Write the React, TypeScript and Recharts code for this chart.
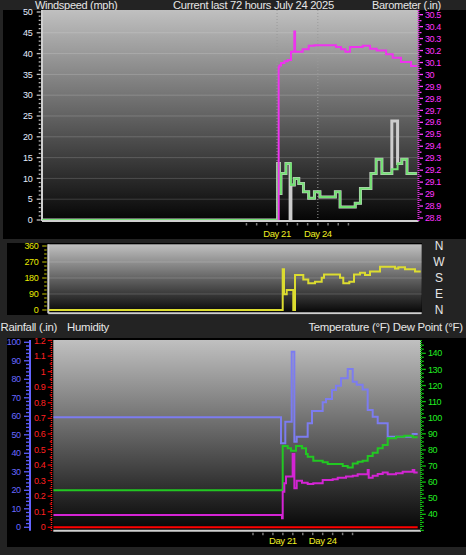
import React from 'react';
import { LineChart, Line, XAxis, YAxis, CartesianGrid, ReferenceLine } from 'recharts';

// ---------- time axis (hours in the 72 h window) ----------
const dayTickHours = [44.95, 52.75];
const dayTickLabels = ['Day 21', 'Day 24'];
const minorTickHours = [39.1, 41.05, 43.0, 46.9, 48.85, 50.8, 54.7, 56.65, 58.6];

// ---------- windspeed / barometer ----------
const windAvg: [number, number][] = [
  [0, 0], [45.06, 13.6], [45.4, 6.4], [45.7, 11.2], [46.65, 13.6], [47.6, 8.4], [48.25, 10], [49.1, 8.8],
  [50, 6.8], [51, 5.2], [52.1, 6.8], [53.15, 5.5], [56.1, 6.8], [57, 3.1], [59.9, 4], [60.9, 7.6],
  [62.9, 11.2], [63.9, 14.6], [65, 11.2], [66.9, 12.2], [68, 13.6], [68.8, 14.6], [69.8, 11.2], [71.7, 11.2],
];
const windGust: [number, number][] = [
  [0, 0], [45.06, 13.6], [45.4, 6.4], [45.7, 11.2], [46.65, 13.6], [47.45, 0.3], [47.6, 8.4], [48.25, 10],
  [49.1, 8.8], [50, 6.8], [51, 5.2], [52.1, 6.8], [53.15, 5.5], [56.1, 6.8], [57, 3.1], [59.9, 4], [60.9, 7.6],
  [62.9, 11.2], [63.9, 14.6], [65, 11.2], [66.9, 23.8], [68, 13.6], [68.8, 14.6], [69.8, 11.2], [71.7, 11.2],
];
const barometer: [number, number][] = [
  [45.26, 28.7], [45.26, 30.06], [45.39, 30.075], [45.7, 30.095], [46.35, 30.11], [46.98, 30.12],
  [47.62, 30.19], [48.25, 30.36], [48.4, 30.19], [49.85, 30.21], [51, 30.24], [52.08, 30.245],
  [56.22, 30.23], [57.18, 30.21], [58, 30.19], [58.9, 30.23], [61.33, 30.24], [62.73, 30.215],
  [64, 30.2], [65.8, 30.17], [67.07, 30.14], [68.65, 30.105], [70.57, 30.07], [71.7, 30.07],
];
const windMajor = [0, 5, 10, 15, 20, 25, 30, 35, 40, 45, 50];
const windLabels = ['0', '5', '10', '15', '20', '25', '30', '35', '40', '45', '50'];
const windGridLevels = [5, 10, 15, 20, 25, 30, 35, 40, 45];
const baroMajor = [28.8, 28.9, 29, 29.1, 29.2, 29.3, 29.4, 29.5, 29.6, 29.7, 29.8, 29.9, 30, 30.1, 30.2, 30.3, 30.4, 30.5];
const baroLabels = ['28.8', '28.9', '29', '29.1', '29.2', '29.3', '29.4', '29.5', '29.6', '29.7', '29.8', '29.9', '30', '30.1', '30.2', '30.3', '30.4', '30.5'];

// ---------- wind direction ----------
const windDir: [number, number][] = [
  [0, 0], [45.2, 229], [45.45, 88], [45.97, 112], [47.24, 0], [47.57, 197], [49.17, 172], [50.13, 150],
  [51.42, 159], [52.72, 182], [53.16, 200], [56.25, 182], [56.88, 150], [58.04, 159], [58.95, 200],
  [60.1, 210], [61.07, 197], [62.03, 216], [63.96, 244], [66.85, 234], [67.49, 240], [68.78, 229],
  [70.71, 216], [71.8, 216],
];
const dirMajor = [0, 90, 180, 270, 360];
const dirLabels = ['0', '90', '180', '270', '360'];
const compassLabels = ['N', 'E', 'S', 'W', 'N'];

// ---------- rain / humidity / temperature / dew point ----------
const rainfall: [number, number][] = [[0, 0], [71.35, 0]];
const humidity: [number, number][] = [
  [0, 59.5], [44.59, 45.4], [45.43, 57.1], [46.68, 94.9], [47.2, 46.3], [47.66, 49], [49.81, 56.2],
  [50.66, 62.9], [52.75, 67.6], [53.4, 69.4], [54.57, 74.2], [55.36, 76.5], [56.33, 80.5], [57.65, 85.6],
  [58.63, 78.7], [59.41, 77], [60.58, 74.5], [61.56, 63.4], [62.54, 59.8], [63.52, 56.2], [65.48, 49],
  [70.37, 50.4], [71.35, 50.4],
];
const temperature: [number, number][] = [
  [0, 55], [44.92, 82.4], [45.9, 81], [46.55, 79.5], [47.52, 82.4], [48.7, 81], [49.48, 77.5], [49.81, 75.8],
  [50.91, 73.3], [52.75, 72.3], [53.73, 71.2], [56.67, 70], [57.65, 69], [58.63, 71.6], [59.6, 72.7],
  [60.58, 73.3], [61.56, 76.2], [62.54, 78.3], [63.52, 81], [64.5, 83], [65.48, 87.2], [67.1, 88.2],
  [68.73, 88.8], [70.37, 87.8], [71.35, 87.8],
];
const dewPoint: [number, number][] = [
  [0, 39.6], [44.78, 37.5], [44.92, 54], [45.24, 59.3], [45.57, 63.4], [46.87, 77.5], [47.2, 56.1],
  [47.66, 60.9], [48.7, 59.6], [49.81, 58.8], [50.91, 59.3], [52.75, 61.3], [54.71, 61.7], [55.69, 62.7],
  [57.32, 63.4], [58.63, 64], [59.6, 64.8], [61.56, 67.5], [61.76, 62.7], [62.54, 64], [63.52, 65],
  [64.5, 66], [65.48, 64.8], [67.1, 65.5], [68.41, 66.5], [70.37, 67.5], [70.69, 66], [71.35, 66],
];
const humMajor = [0, 10, 20, 30, 40, 50, 60, 70, 80, 90, 100];
const humLabels = ['0', '10', '20', '30', '40', '50', '60', '70', '80', '90', '100'];
const rainMajor = [0, 0.1, 0.2, 0.3, 0.4, 0.5, 0.6, 0.7, 0.8, 0.9, 1, 1.1, 1.2];
const rainLabels = ['0', '0.1', '0.2', '0.3', '0.4', '0.5', '0.6', '0.7', '0.8', '0.9', '1', '1.1', '1.2'];
const tempMajor = [40, 50, 60, 70, 80, 90, 100, 110, 120, 130, 140];
const tempLabels = ['40', '50', '60', '70', '80', '90', '100', '110', '120', '130', '140'];
const gridLevels = [1, 2, 3, 4, 5, 6, 7, 8, 9];

// ---------- helpers ----------
const pts = (a: [number, number][]) => a.map(([t, v]) => ({ t, v }));
const stepTicks = (from: number, to: number, step: number) => {
  const out: number[] = [];
  for (let v = from; v <= to + 1e-9; v += step) out.push(Math.round(v * 1000) / 1000);
  return out;
};
const hourTicks = [...minorTickHours, ...dayTickHours].sort((a, b) => a - b);
const FONT = "Arial, 'Liberation Sans', sans-serif";

type YTickCfg = {
  side: 'left' | 'right'; margin: number; majors: number[]; labels: string[]; color: string;
  tickColor: string; majorLen: number; minorLen: number; gap: number; fontSize?: number;
  anchor?: 'start' | 'middle' | 'end'; spacing?: number;
};
const makeYTick = (c: YTickCfg) => (props: any) => {
  const { x, y, payload } = props;
  const v = payload.value as number;
  const i = c.majors.findIndex((m) => Math.abs(m - v) < 1e-6);
  const dir = c.side === 'left' ? -1 : 1;
  const axisX = c.side === 'left' ? x + c.margin : x - c.margin;
  const len = i >= 0 ? c.majorLen : c.minorLen;
  return (
    <g>
      {len > 0 && (
        <line x1={axisX + dir * c.gap} x2={axisX + dir * (c.gap + len)} y1={y} y2={y} stroke={c.tickColor} strokeWidth={1.3} />
      )}
      {i >= 0 && (
        <text x={x} y={y} dy="0.35em" textAnchor={c.anchor ?? (c.side === 'left' ? 'end' : 'start')} fill={c.color}
          fontSize={c.fontSize ?? 9} fontFamily={FONT} letterSpacing={c.spacing ?? -0.4}>
          {c.labels[i]}
        </text>
      )}
    </g>
  );
};

const makeXTick = (labelDy: number) => (props: any) => {
  const { x, y, payload } = props;
  const i = dayTickHours.findIndex((d) => Math.abs(d - payload.value) < 1e-6);
  return (
    <g>
      <line x1={x} x2={x} y1={y + 2} y2={y + 4.5} stroke="#7a7a7a" strokeWidth={1.5} />
      {i >= 0 && (
        <text x={x} y={y + labelDy} textAnchor="middle" fill="#eeee22" fontSize={9.5} fontFamily={FONT} letterSpacing={-0.4}>
          {dayTickLabels[i]}
        </text>
      )}
    </g>
  );
};

// dotted axis line drawn just left of the plot edge (used as a YAxis label content)
const makeAxisEdge = (color: string, inset: number) => (props: any) => {
  const vb = props.viewBox || {};
  const x = (vb.x ?? 0) + (vb.width ?? 0) - inset;
  return <line x1={x} x2={x} y1={vb.y} y2={(vb.y ?? 0) + (vb.height ?? 0)} stroke={color} strokeWidth={1.5} strokeDasharray="1 1" />;
};

const Title = ({ text, left, right, top, size }: { text: string; left?: number; right?: number; top: number; size: number }) => (
  <div style={{ position: 'absolute', left, right, top, color: '#e6e6e6', fontSize: size, lineHeight: '9px',
    letterSpacing: -0.3, whiteSpace: 'nowrap', fontFamily: FONT }}>
    {text}
  </div>
);

const gridStroke = 'rgba(255,255,255,0.17)';
const frameStroke = '#cfcfcf';

export default function App() {
  return (
    <div style={{ position: 'absolute', left: 0, top: 0, width: 466, height: 555, background: '#232323', overflow: 'hidden' }}>
      <svg width={0} height={0} style={{ position: 'absolute' }}>
        <defs>
          <linearGradient id="plotGrad" x1="0" y1="0" x2="0" y2="1">
            <stop offset="0" stopColor="#c0c0c0" />
            <stop offset="1" stopColor="#050505" />
          </linearGradient>
        </defs>
      </svg>

      {/* black panels */}
      <div style={{ position: 'absolute', left: 3, top: 10, width: 463, height: 229, background: '#000' }} />
      <div style={{ position: 'absolute', left: 7, top: 243, width: 415, height: 72, background: '#000' }} />
      <div style={{ position: 'absolute', left: 7, top: 338, width: 459, height: 209, background: '#000' }} />

      {/* titles */}
      <Title text="Windspeed (mph)" left={35} top={1} size={11} />
      <Title text="Current last 72 hours July 24 2025" left={173} top={1.2} size={11.2} />
      <Title text="Barometer (.in)" left={372} top={1} size={11} />
      <Title text="Rainfall (.in)" left={0.5} top={322.5} size={11.4} />
      <Title text="Humidity" left={67} top={322.5} size={11.4} />
      <Title text="Temperature (°F) Dew Point (°F)" right={3.3} top={322.5} size={11.4} />

      {/* ---------- top: windspeed & barometer ---------- */}
      <div style={{ position: 'absolute', left: 0, top: 0 }}>
        <LineChart width={466} height={245} margin={{ top: 10, right: 0, bottom: 0, left: 0 }}>
          <CartesianGrid yAxisId="wind" horizontal={false} vertical={false} fill="url(#plotGrad)" stroke="none" />
          <XAxis type="number" dataKey="t" domain={[0, 72]} allowDataOverflow ticks={hourTicks} interval={0}
            tickSize={0} tickMargin={0} height={24} tick={makeXTick(15.5)}
            axisLine={{ stroke: frameStroke, strokeWidth: 2 }} />
          <YAxis yAxisId="wind" orientation="left" width={42} domain={[-0.24, 50.48]} allowDataOverflow
            ticks={stepTicks(0, 50, 1)} interval={0} tickSize={0} tickMargin={9.7} axisLine={false}
            tick={makeYTick({ side: 'left', margin: 9.7, majors: windMajor, labels: windLabels, color: '#e4ecff',
              tickColor: '#bdbdbd', majorLen: 4, minorLen: 2, gap: 1.3 })} />
          <YAxis yAxisId="baro" orientation="right" width={47.5} domain={[28.775, 30.539]} allowDataOverflow
            ticks={stepTicks(28.8, 30.5, 0.05)} interval={0} tickSize={0} tickMargin={6.5}
            axisLine={{ stroke: '#e030e0', strokeWidth: 2, strokeDasharray: '1 1' }}
            tick={makeYTick({ side: 'right', margin: 6.5, majors: baroMajor, labels: baroLabels, color: '#ff33ff',
              tickColor: '#ff40ff', majorLen: 3.5, minorLen: 2, gap: 1 })} />
          {windGridLevels.map((g) => (
            <ReferenceLine key={g} yAxisId="wind" y={g} stroke={gridStroke} strokeWidth={1} />
          ))}
          {dayTickHours.map((d) => (
            <ReferenceLine key={d} yAxisId="wind" x={d} stroke="#9a9a9a" strokeDasharray="1 2" strokeWidth={1} />
          ))}
          <ReferenceLine yAxisId="wind" x={0} stroke={frameStroke} strokeWidth={2} />
          <Line yAxisId="wind" data={pts(windGust)} dataKey="v" type="stepAfter" stroke="#cdcdcd" strokeWidth={3}
            dot={false} isAnimationActive={false} />
          <Line yAxisId="wind" data={pts(windAvg)} dataKey="v" type="stepAfter" stroke="#74e074" strokeWidth={2}
            dot={false} isAnimationActive={false} />
          <Line yAxisId="baro" data={pts(barometer)} dataKey="v" type="stepAfter" stroke="#ee33ee" strokeWidth={2}
            dot={false} isAnimationActive={false} />
        </LineChart>
      </div>

      {/* ---------- middle: wind direction ---------- */}
      <div style={{ position: 'absolute', left: 0, top: 240 }}>
        <LineChart width={466} height={80} margin={{ top: 4.3, right: 0, bottom: 0, left: 0 }}>
          <CartesianGrid yAxisId="dir" horizontal={false} vertical={false} fill="url(#plotGrad)" stroke="none" />
          <XAxis type="number" dataKey="t" domain={[0, 72]} allowDataOverflow ticks={hourTicks} tick={false}
            tickSize={0} height={6.7} axisLine={{ stroke: frameStroke, strokeWidth: 2 }} />
          <YAxis yAxisId="dir" orientation="left" width={48.3} domain={[-18.6, 369.6]} allowDataOverflow
            ticks={stepTicks(0, 360, 22.5)} interval={0} tickSize={0} tickMargin={10} axisLine={false}
            tick={makeYTick({ side: 'left', margin: 10, majors: dirMajor, labels: dirLabels, color: '#e8e800',
              tickColor: '#9a9a00', majorLen: 4.5, minorLen: 2.5, gap: 1.6 })} />
          <YAxis yAxisId="dirCompass" orientation="right" width={44.3} domain={[-18.6, 369.6]} allowDataOverflow
            ticks={dirMajor} interval={0} tickSize={0} tickMargin={17.3} axisLine={false}
            tick={makeYTick({ side: 'right', margin: 17.3, majors: dirMajor, labels: compassLabels, color: '#e6e6e6',
              tickColor: 'none', majorLen: 0, minorLen: 0, gap: 0, fontSize: 12, anchor: 'middle', spacing: 0 })} />
          {[90, 180, 270].map((g) => (
            <ReferenceLine key={g} yAxisId="dir" y={g} stroke={gridStroke} strokeWidth={1} />
          ))}
          <ReferenceLine yAxisId="dir" x={0} stroke={frameStroke} strokeWidth={2} />
          <Line yAxisId="dir" data={pts(windDir)} dataKey="v" type="stepAfter" stroke="#dcdc30" strokeWidth={2}
            dot={false} isAnimationActive={false} />
        </LineChart>
      </div>

      {/* ---------- bottom: rain, humidity, temperature, dew point ---------- */}
      <div style={{ position: 'absolute', left: 0, top: 330 }}>
        <LineChart width={466} height={225} margin={{ top: 10, right: 0, bottom: 0, left: 0 }}>
          <CartesianGrid yAxisId="a_rain" horizontal={false} vertical={false} fill="url(#plotGrad)" stroke="none" />
          <XAxis type="number" dataKey="t" domain={[0, 72]} allowDataOverflow ticks={hourTicks} interval={0}
            tickSize={0} tickMargin={0} height={24.3} tick={makeXTick(13.5)}
            axisLine={{ stroke: frameStroke, strokeWidth: 2 }} />
          <YAxis yAxisId="a_rain" orientation="left" width={23.3} domain={[-0.0218, 1.2032]} allowDataOverflow
            ticks={stepTicks(0, 1.2, 0.05)} interval={0} tickSize={0} tickMargin={8} axisLine={false}
            label={{ content: makeAxisEdge('#ff2020', 1.8) }}
            tick={makeYTick({ side: 'left', margin: 8, majors: rainMajor, labels: rainLabels, color: '#ff2020',
              tickColor: '#e00000', majorLen: 4, minorLen: 2, gap: 1.6 })} />
          <YAxis yAxisId="b_hum" orientation="left" width={30} domain={[-1.84, 101.24]} allowDataOverflow
            ticks={stepTicks(0, 100, 2)} interval={0} tickSize={0} tickMargin={9.3}
            axisLine={{ stroke: '#6464ff', strokeWidth: 2 }}
            tick={makeYTick({ side: 'left', margin: 9.3, majors: humMajor, labels: humLabels, color: '#6868ff',
              tickColor: '#5c5cff', majorLen: 5, minorLen: 3, gap: 1 })} />
          <YAxis yAxisId="c_temp" orientation="right" width={45} domain={[29.81, 148.26]} allowDataOverflow
            ticks={stepTicks(30, 145, 2.5)} interval={0} tickSize={0} tickMargin={7}
            axisLine={{ stroke: '#10c010', strokeWidth: 2, strokeDasharray: '1 1' }}
            tick={makeYTick({ side: 'right', margin: 7, majors: tempMajor, labels: tempLabels, color: '#22ee22',
              tickColor: '#10c010', majorLen: 4, minorLen: 2, gap: 0.8 })} />
          <YAxis yAxisId="d_grid" orientation="right" width={0} hide domain={[0, 10]} />
          {gridLevels.map((g) => (
            <ReferenceLine key={g} yAxisId="d_grid" y={g} stroke={gridStroke} strokeWidth={1} />
          ))}
          {dayTickHours.map((d) => (
            <ReferenceLine key={d} yAxisId="d_grid" x={d} stroke="#9a9a9a" strokeDasharray="1 2" strokeWidth={1} />
          ))}
          <ReferenceLine yAxisId="d_grid" x={0} stroke={frameStroke} strokeWidth={1.6} />
          <Line yAxisId="a_rain" data={pts(rainfall)} dataKey="v" type="stepAfter" stroke="#ff0000" strokeWidth={2}
            dot={false} isAnimationActive={false} />
          <Line yAxisId="b_hum" data={pts(humidity)} dataKey="v" type="stepAfter" stroke="#7c7cf0" strokeWidth={2}
            dot={false} isAnimationActive={false} />
          <Line yAxisId="c_temp" data={pts(temperature)} dataKey="v" type="stepAfter" stroke="#22c822" strokeWidth={2}
            dot={false} isAnimationActive={false} />
          <Line yAxisId="c_temp" data={pts(dewPoint)} dataKey="v" type="stepAfter" stroke="#d424d4" strokeWidth={2}
            dot={false} isAnimationActive={false} />
        </LineChart>
      </div>
    </div>
  );
}
